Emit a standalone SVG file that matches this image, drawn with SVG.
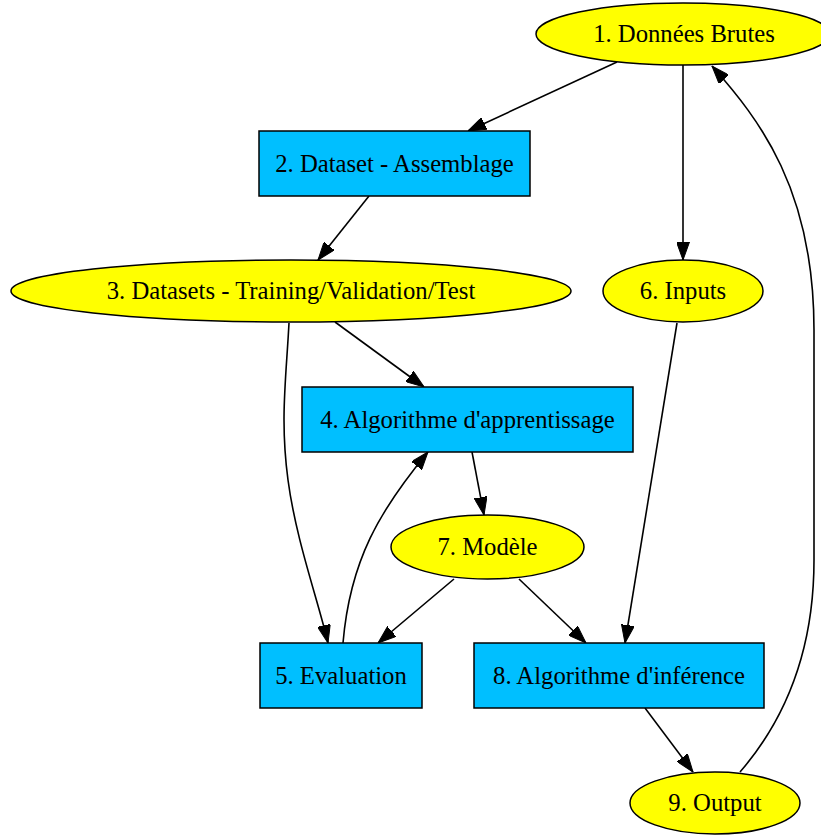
<svg xmlns="http://www.w3.org/2000/svg" width="821" height="836" viewBox="0 0 821 836">
<style>
.ell{fill:#ffff00;stroke:#000;stroke-width:1.5}
.box{fill:#00bfff;stroke:#000;stroke-width:1.5}
.lbl{font-family:"Liberation Serif","Times New Roman",serif;font-size:24.7px;fill:#000;text-anchor:middle}
.edge{fill:none;stroke:#000;stroke-width:1.6;marker-end:url(#arr)}
</style>
<defs>
<marker id="arr" markerUnits="userSpaceOnUse" markerWidth="18" markerHeight="13" refX="18" refY="6.5" orient="auto">
<path d="M0,0 L18,6.5 L0,13 z" fill="#000" stroke="#000" stroke-width="1"/>
</marker>
</defs>
<rect width="821" height="836" fill="#fff"/>
<g id="edges">
<path class="edge" d="M617,62 L468,131"/>
<path class="edge" d="M683,65 L683,260"/>
<path class="edge" d="M369,196 L318,260"/>
<path class="edge" d="M335,322 L424,387"/>
<path class="edge" d="M289,323 C286,380 280,420 288,480 C296,540 318,600 328,643"/>
<path class="edge" d="M343,643 C350,560 380,510 428,452"/>
<path class="edge" d="M472,452 L484,515"/>
<path class="edge" d="M454,579 L378,643"/>
<path class="edge" d="M519,579 L586,643"/>
<path class="edge" d="M677,323 L625,643"/>
<path class="edge" d="M645,708 L693,772"/>
<path class="edge" d="M740,772 C785,720 814,650 814,560 L814,330 C814,190 760,120 712,66"/>
</g>
<g id="n1"><ellipse class="ell" cx="683" cy="34" rx="147" ry="31"/><text class="lbl" x="684" y="42">1. Données Brutes</text></g>
<g id="n2"><rect class="box" x="259" y="131" width="271" height="65"/><text class="lbl" x="394.5" y="171.5">2. Dataset - Assemblage</text></g>
<g id="n3"><ellipse class="ell" cx="291" cy="291" rx="280" ry="31"/><text class="lbl" x="291" y="299">3. Datasets - Training/Validation/Test</text></g>
<g id="n6"><ellipse class="ell" cx="683" cy="291" rx="80" ry="31"/><text class="lbl" x="683" y="299">6. Inputs</text></g>
<g id="n4"><rect class="box" x="302" y="387" width="331" height="65"/><text class="lbl" x="467.5" y="427.5">4. Algorithme d'apprentissage</text></g>
<g id="n7"><ellipse class="ell" cx="487.5" cy="547" rx="96.5" ry="32"/><text class="lbl" x="487.5" y="555">7. Modèle</text></g>
<g id="n5"><rect class="box" x="260" y="643" width="162" height="65"/><text class="lbl" x="341" y="683.5">5. Evaluation</text></g>
<g id="n8"><rect class="box" x="474" y="643" width="290" height="65"/><text class="lbl" x="619" y="683.5">8. Algorithme d'inférence</text></g>
<g id="n9"><ellipse class="ell" cx="715" cy="803" rx="85" ry="31"/><text class="lbl" x="715" y="811">9. Output</text></g>
</svg>
